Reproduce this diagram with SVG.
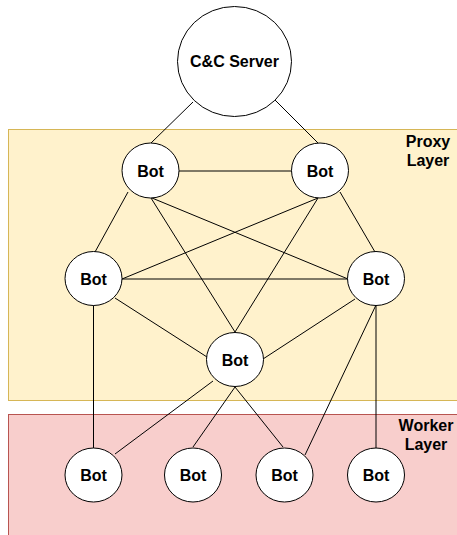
<svg xmlns="http://www.w3.org/2000/svg" width="457" height="535" viewBox="0 0 457 535">
  <style>
    .layer-proxy { fill: #fff2cc; stroke: #d6b656; stroke-width: 1; }
    .layer-worker { fill: #f8cecc; stroke: #b85450; stroke-width: 1; }
    .node { fill: #ffffff; stroke: #000000; stroke-width: 1; }
    .edge { stroke: #000000; stroke-width: 1; fill: none; }
    .label { font-family: "Liberation Sans", Arial, sans-serif; font-weight: bold; font-size: 16px; fill: #000000; text-anchor: middle; }
  </style>
  <rect width="457" height="535" fill="#ffffff"/>

  <!-- layers -->
  <g id="proxy-layer">
    <rect class="layer-proxy" x="8.5" y="129.5" width="460" height="271"/>
    <text class="label" x="428" y="147">Proxy</text>
    <text class="label" x="428" y="166">Layer</text>
  </g>
  <g id="worker-layer">
    <rect class="layer-worker" x="8.5" y="414.5" width="460" height="140"/>
    <text class="label" x="426" y="431">Worker</text>
    <text class="label" x="426" y="450">Layer</text>
  </g>

  <!-- connectors -->
  <g id="connectors" class="edge">
    <line x1="193" y1="102" x2="151" y2="143"/>
    <line x1="275" y1="100" x2="318" y2="143"/>
    <line x1="179" y1="171" x2="292" y2="171"/>
    <line x1="128" y1="192" x2="95" y2="252"/>
    <line x1="151" y1="198" x2="235" y2="332"/>
    <line x1="152" y1="198" x2="348" y2="279"/>
    <line x1="318" y1="198" x2="122" y2="279"/>
    <line x1="318" y1="198" x2="235" y2="332"/>
    <line x1="340" y1="192" x2="375" y2="252"/>
    <line x1="122" y1="279" x2="348" y2="279"/>
    <line x1="115" y1="298" x2="207" y2="357"/>
    <line x1="355" y1="299" x2="263" y2="359"/>
    <line x1="93.5" y1="305" x2="93.5" y2="448"/>
    <line x1="376" y1="305" x2="376" y2="448"/>
    <line x1="213" y1="381" x2="115" y2="454"/>
    <line x1="235" y1="387" x2="193" y2="447"/>
    <line x1="235" y1="387" x2="283" y2="447"/>
    <line x1="376" y1="305" x2="305" y2="455"/>
  </g>

  <!-- nodes -->
  <g id="cc-server">
    <ellipse class="node" cx="234.5" cy="61.5" rx="57" ry="55"/>
    <text class="label" x="234.5" y="67">C&amp;C Server</text>
  </g>
  <g id="bot-proxy-top-left">
    <ellipse class="node" cx="150.5" cy="170.5" rx="28.5" ry="27.5"/>
    <text class="label" x="150.5" y="176.5">Bot</text>
  </g>
  <g id="bot-proxy-top-right">
    <ellipse class="node" cx="320" cy="170.5" rx="28.5" ry="27.5"/>
    <text class="label" x="320" y="176.5">Bot</text>
  </g>
  <g id="bot-proxy-mid-left">
    <ellipse class="node" cx="93.5" cy="278.5" rx="28.5" ry="27"/>
    <text class="label" x="93.5" y="284.5">Bot</text>
  </g>
  <g id="bot-proxy-mid-right">
    <ellipse class="node" cx="376" cy="278.5" rx="28.5" ry="27"/>
    <text class="label" x="376" y="284.5">Bot</text>
  </g>
  <g id="bot-proxy-center">
    <ellipse class="node" cx="235" cy="359.5" rx="28.5" ry="27"/>
    <text class="label" x="235" y="365.5">Bot</text>
  </g>
  <g id="bot-worker-1">
    <ellipse class="node" cx="93.5" cy="475" rx="28.5" ry="27"/>
    <text class="label" x="93.5" y="481">Bot</text>
  </g>
  <g id="bot-worker-2">
    <ellipse class="node" cx="193" cy="475" rx="28.5" ry="27"/>
    <text class="label" x="193" y="481">Bot</text>
  </g>
  <g id="bot-worker-3">
    <ellipse class="node" cx="284.5" cy="475" rx="28.5" ry="27"/>
    <text class="label" x="284.5" y="481">Bot</text>
  </g>
  <g id="bot-worker-4">
    <ellipse class="node" cx="376" cy="475" rx="28.5" ry="27"/>
    <text class="label" x="376" y="481">Bot</text>
  </g>
</svg>
